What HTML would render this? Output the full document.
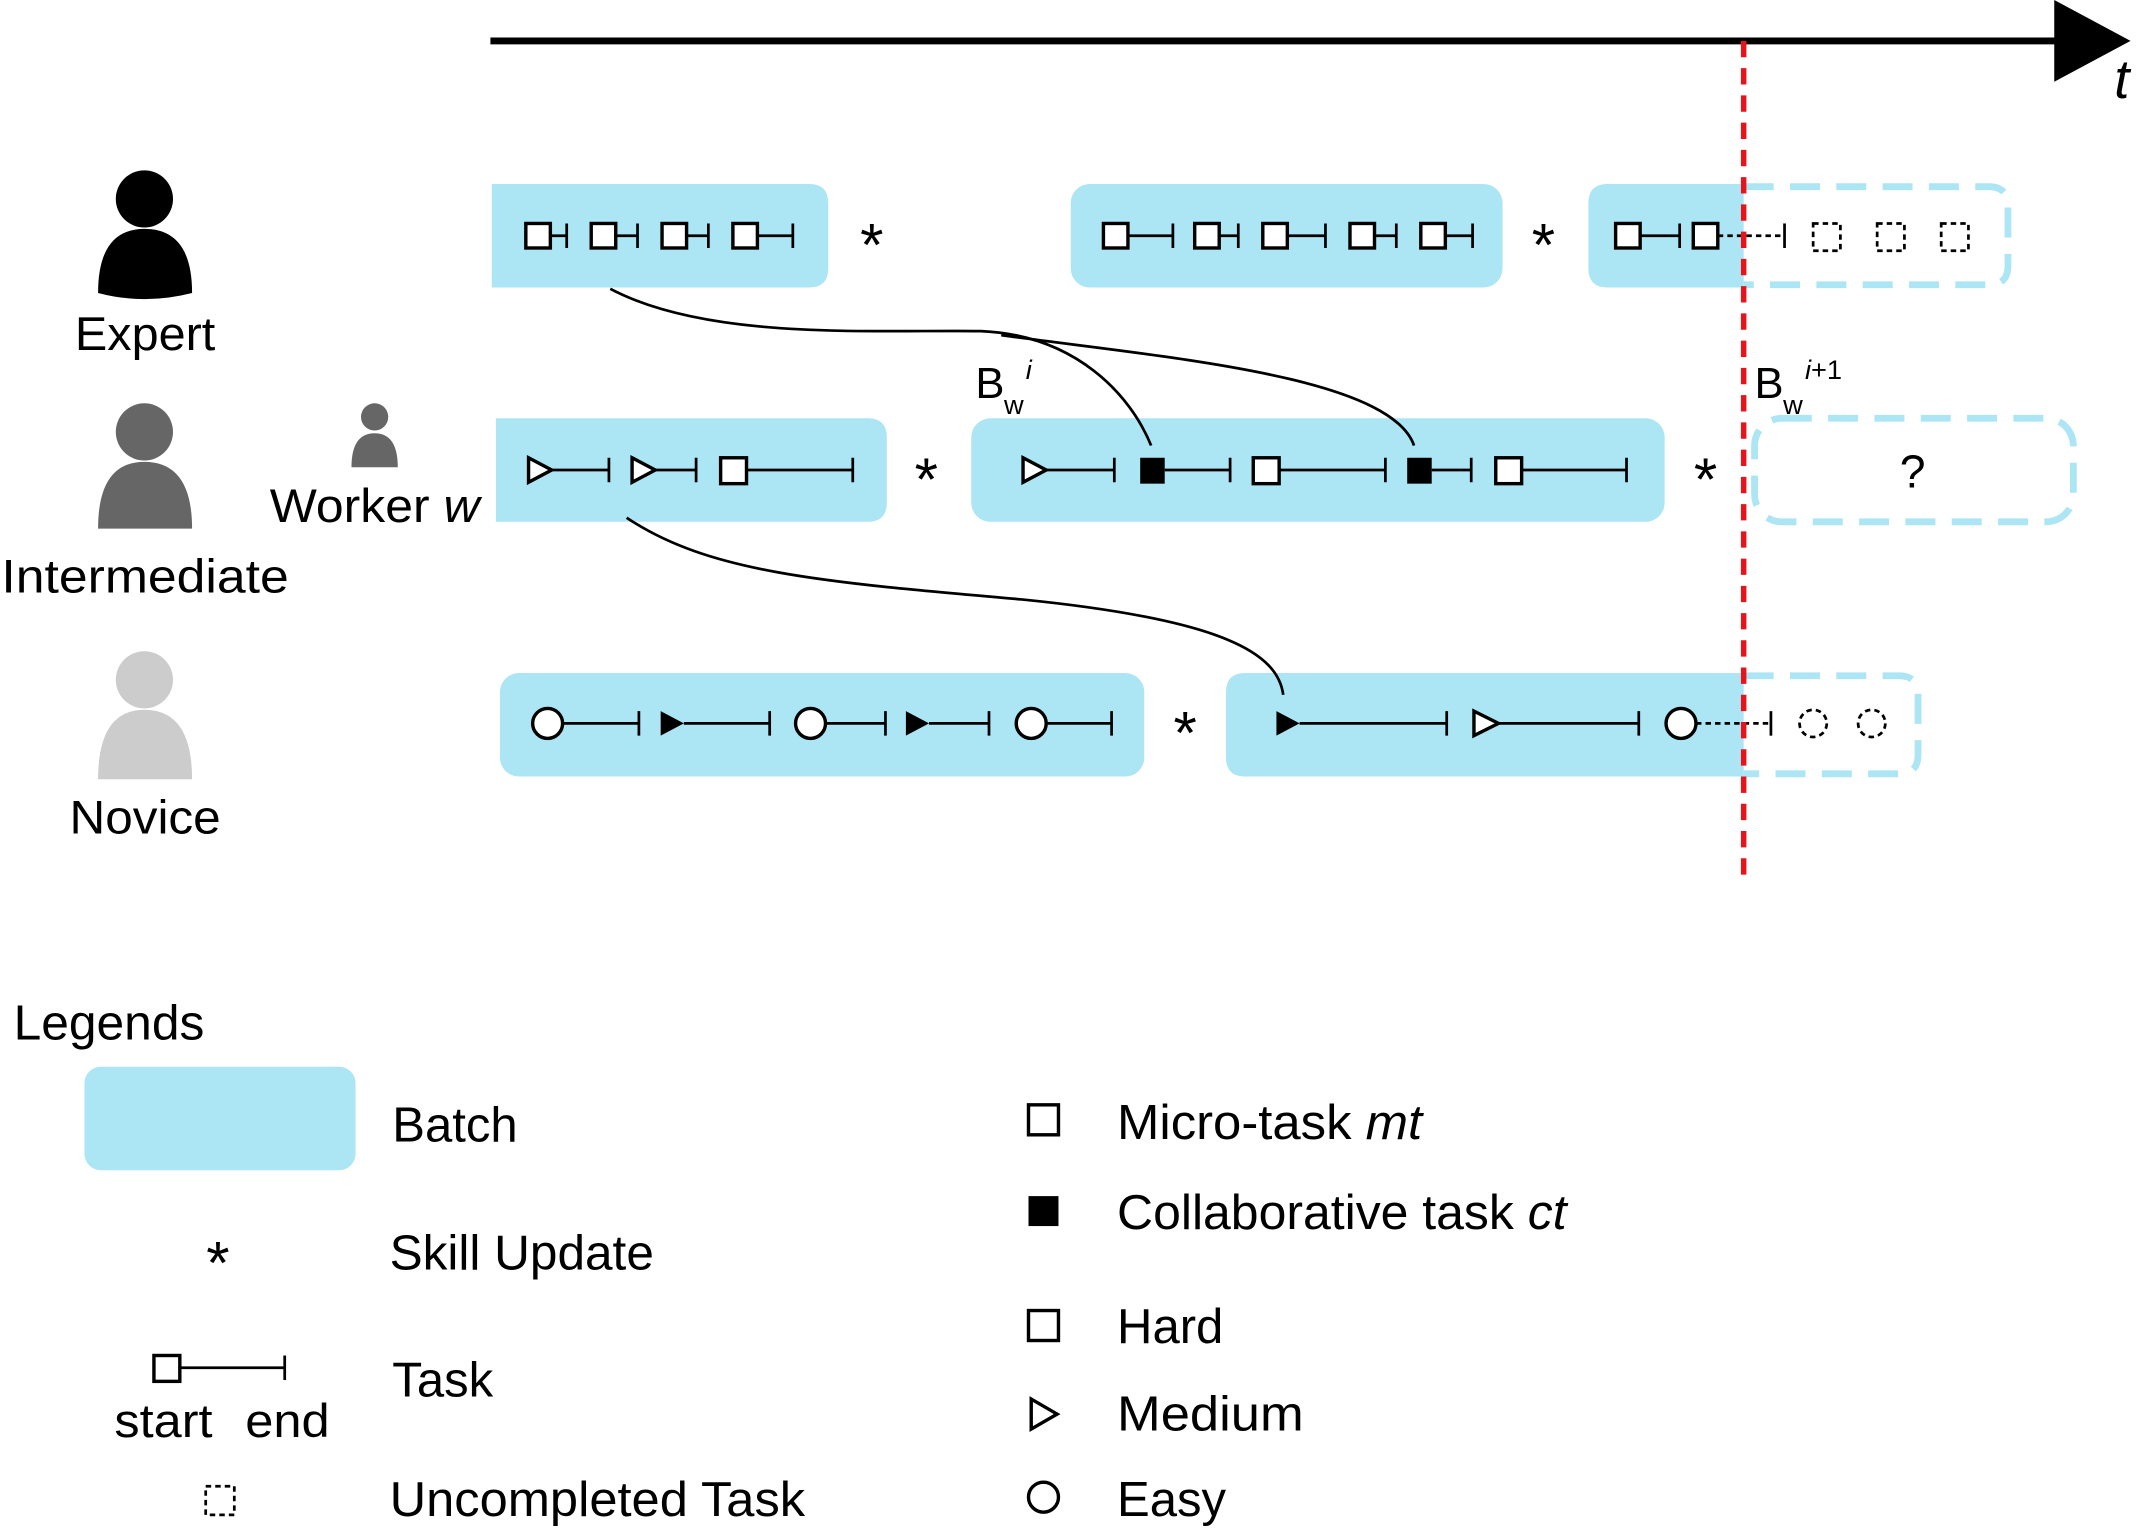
<!DOCTYPE html>
<html><head><meta charset="utf-8"><style>
html,body{margin:0;padding:0;background:#fff;}
svg{display:block;}
text{font-family:"Liberation Sans","DejaVu Sans",sans-serif;fill:#000;}
</style></head><body>
<svg width="2136" height="1534" viewBox="0 0 1568 1126" xmlns="http://www.w3.org/2000/svg">
<!-- axis -->
<line x1="360" y1="30" x2="1515" y2="30" stroke="#000" stroke-width="5"/>
<polygon points="1508,0 1564,30 1508,60" fill="#000"/>
<text x="1552" y="72" font-size="40" font-style="italic">t</text>

<!-- persons -->
<g fill="#000"><circle cx="106" cy="146" r="21"/><path d="M72,215 Q72,168 106,168 Q141,168 141,215 Q106,224 72,215Z"/></g>
<text x="55" y="257" font-size="35" textLength="103" lengthAdjust="spacingAndGlyphs">Expert</text>
<g fill="#666"><circle cx="106" cy="317" r="21"/><path d="M72,388 Q72,339 106,339 Q141,339 141,388 Z"/></g>
<text x="1" y="435" font-size="35" textLength="211" lengthAdjust="spacingAndGlyphs">Intermediate</text>
<g fill="#ccc"><circle cx="106" cy="499" r="21"/><path d="M72,572 Q72,521 106,521 Q141,521 141,572 Z"/></g>
<text x="51" y="612" font-size="35" textLength="111" lengthAdjust="spacingAndGlyphs">Novice</text>
<g fill="#666"><circle cx="275" cy="306" r="10"/><path d="M258,343 Q258,318 275,318 Q292,318 292,343 Z"/></g>
<text x="198" y="383" font-size="35" textLength="154" lengthAdjust="spacingAndGlyphs">Worker <tspan font-style="italic">w</tspan></text>

<!-- batches -->
<g fill="#ace5f4">
<path d="M361,135 H594 Q608,135 608,149 V197 Q608,211 594,211 H361Z"/>
<rect x="786" y="135" width="317" height="76" rx="14"/>
<path d="M1180,135 H1280 V211 H1180 Q1166,211 1166,197 V149 Q1166,135 1180,135Z"/>
<path d="M364,307 H637 Q651,307 651,321 V369 Q651,383 637,383 H364Z"/>
<rect x="713" y="307" width="509" height="76" rx="14"/>
<rect x="367" y="494" width="473" height="76" rx="14"/>
<path d="M914,494 H1280 V570 H914 Q900,570 900,556 V508 Q900,494 914,494Z"/>
<rect x="62" y="783" width="199" height="76" rx="12"/>
</g>
<g fill="none" stroke="#ace5f4" stroke-width="5" stroke-dasharray="22 12">
<path d="M1280,137 H1460 Q1474,137 1474,151 V195 Q1474,209 1460,209 H1280"/>
<rect x="1288" y="307" width="234" height="76" rx="20"/>
<path d="M1280,496 H1394 Q1408,496 1408,510 V554 Q1408,568 1394,568 H1280"/>
</g>
<text x="1404" y="358" font-size="34" text-anchor="middle">?</text>

<!-- asterisks -->
<g font-size="44" text-anchor="middle">
<text x="640" y="195">*</text><text x="1133" y="195">*</text>
<text x="680" y="367">*</text><text x="1252" y="367">*</text>
<text x="870" y="553">*</text><text x="160" y="942">*</text>
</g>

<!-- task lines -->
<g stroke="#000" stroke-width="2" fill="none">
<path d="M404,173H416M416,164V182"/><path d="M452,173H468M468,164V182"/><path d="M504,173H520M520,164V182"/><path d="M556,173H582M582,164V182"/>
<path d="M828,173H861M861,164V182"/><path d="M895,173H909M909,164V182"/><path d="M945,173H973M973,164V182"/><path d="M1009,173H1025M1025,164V182"/><path d="M1061,173H1081M1081,164V182"/>
<path d="M1204,173H1233M1233,164V182"/>
<path d="M1261,173H1310" stroke-dasharray="4 3"/><path d="M1310,164V182"/>
<path d="M405,345H447M447,336V354"/><path d="M481,345H511M511,336V354"/><path d="M548,345H626M626,336V354"/>
<path d="M768,345H818M818,336V354"/><path d="M855,345H903M903,336V354"/><path d="M939,345H1017M1017,336V354"/><path d="M1051,345H1080M1080,336V354"/><path d="M1116,345H1194M1194,336V354"/>
<path d="M413,531H469M469,522V540"/><path d="M502,531H565M565,522V540"/><path d="M606,531H650M650,522V540"/><path d="M682,531H726M726,522V540"/><path d="M768,531H816M816,522V540"/>
<path d="M954,531H1062M1062,522V540"/><path d="M1100,531H1203M1203,522V540"/>
<path d="M1245,531H1300" stroke-dasharray="4 3"/><path d="M1300,522V540"/>
<path d="M132,1004H209M209,995V1013"/>
</g>

<!-- shapes -->
<g stroke="#000" stroke-width="2.5" fill="#fff">
<rect x="386" y="164" width="18" height="18"/><rect x="434" y="164" width="18" height="18"/><rect x="486" y="164" width="18" height="18"/><rect x="538" y="164" width="18" height="18"/>
<rect x="810" y="164" width="18" height="18"/><rect x="877" y="164" width="18" height="18"/><rect x="927" y="164" width="18" height="18"/><rect x="991" y="164" width="18" height="18"/><rect x="1043" y="164" width="18" height="18"/>
<rect x="1186" y="164" width="18" height="18"/><rect x="1243" y="164" width="18" height="18"/>
<polygon points="388,336 405,345 388,354"/><polygon points="464,336 481,345 464,354"/><rect x="529" y="336" width="19" height="19"/>
<polygon points="751,336 768,345 751,354"/><rect x="920" y="336" width="19" height="19"/><rect x="1098" y="336" width="19" height="19"/>
<circle cx="402" cy="531" r="11"/><circle cx="595" cy="531" r="11"/><circle cx="757" cy="531" r="11"/>
<polygon points="1082,522 1100,531 1082,540"/><circle cx="1234" cy="531" r="11"/>
<rect x="113" y="995" width="19" height="19"/>
<rect x="755" y="811" width="22" height="22"/><rect x="755" y="962" width="22" height="22"/>
<polygon points="757,1027 776,1038 757,1049"/><circle cx="766" cy="1099" r="11"/>
</g>
<g fill="#000">
<rect x="837" y="336" width="18" height="19"/><rect x="1033" y="336" width="18" height="19"/>
<polygon points="485,522 502,531 485,540"/><polygon points="665,522 682,531 665,540"/><polygon points="937,522 954,531 937,540"/>
<rect x="755" y="878" width="22" height="22"/>
</g>
<g stroke="#000" stroke-width="2" fill="none" stroke-dasharray="4 3">
<rect x="1331" y="164" width="20" height="20"/><rect x="1378" y="164" width="20" height="20"/><rect x="1425" y="164" width="20" height="20"/>
<circle cx="1331" cy="531" r="10"/><circle cx="1374" cy="531" r="10"/>
<rect x="151" y="1091" width="21" height="21"/>
</g>

<line x1="1280" y1="30" x2="1280" y2="650" stroke="#e8141c" stroke-width="4" stroke-dasharray="12 8"/>

<g stroke="#000" stroke-width="2" fill="none">
<path d="M448,212 C520,250 640,242 720,243 C790,246 830,290 845,327"/>
<path d="M735,246 C850,262 1020,275 1038,327"/>
<path d="M460,380 C520,420 600,427 750,440 C900,455 938,480 942,510"/>
</g>

<text x="716" y="292" font-size="32">B</text><text x="737" y="304" font-size="20">w</text><text x="753" y="278" font-size="20" font-style="italic">i</text>
<text x="1288" y="292" font-size="32">B</text><text x="1309" y="304" font-size="20">w</text><text x="1325" y="278" font-size="20"><tspan font-style="italic">i</tspan>+1</text>

<g font-size="36">
<text x="10" y="763" textLength="140" lengthAdjust="spacingAndGlyphs">Legends</text>
<text x="288" y="838">Batch</text>
<text x="286" y="932" textLength="194" lengthAdjust="spacingAndGlyphs">Skill Update</text>
<text x="288" y="1025">Task</text>
<text x="84" y="1055" font-size="35" textLength="72" lengthAdjust="spacingAndGlyphs">start</text><text x="180" y="1055" font-size="35" textLength="62" lengthAdjust="spacingAndGlyphs">end</text>
<text x="286" y="1113" textLength="305" lengthAdjust="spacingAndGlyphs">Uncompleted Task</text>
<text x="820" y="836" textLength="224" lengthAdjust="spacingAndGlyphs">Micro-task <tspan font-style="italic">mt</tspan></text>
<text x="820" y="902" textLength="330" lengthAdjust="spacingAndGlyphs">Collaborative task <tspan font-style="italic">ct</tspan></text>
<text x="820" y="986">Hard</text>
<text x="820" y="1050" textLength="137" lengthAdjust="spacingAndGlyphs">Medium</text>
<text x="820" y="1113">Easy</text>
</g>
</svg>
</body></html>
